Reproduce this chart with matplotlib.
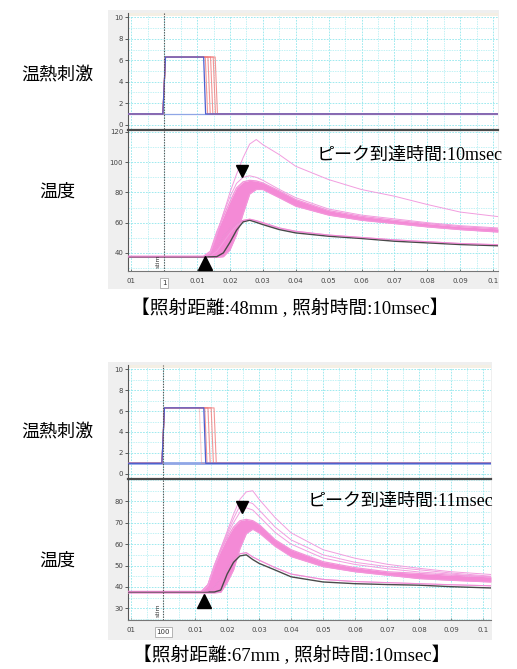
import matplotlib
matplotlib.use("Agg")
from matplotlib import pyplot as plt
from matplotlib.patches import Rectangle
from matplotlib.ticker import MultipleLocator
import matplotlib.transforms as mtransforms

# ---- data ----
# time points (s) for the temperature traces
t_temp_48 = [-0.011, 0.012, 0.014, 0.016, 0.018, 0.020, 0.022, 0.024, 0.026, 0.028,
             0.030, 0.035, 0.040, 0.050, 0.060, 0.070, 0.080, 0.090, 0.1015]
t_temp_67 = [-0.011, 0.012, 0.014, 0.016, 0.018, 0.020, 0.022, 0.024, 0.026, 0.028,
             0.030, 0.035, 0.040, 0.050, 0.060, 0.070, 0.080, 0.090, 0.1025]

# 48mm
black_48 = [37.4, 37.4, 37.4, 37.5, 40.0, 47.0, 55.0, 60.5, 61.6, 60.2, 58.7, 55.4, 53.2, 51.0, 49.5, 47.7, 46.6, 45.5, 44.7]
band_hi_48 = [37.8, 37.8, 41.0, 54.0, 64.0, 74.0, 83.0, 87.0, 88.0, 87.6, 86.3, 81.0, 75.3, 68.0, 64.2, 61.6, 59.4, 57.4, 55.9]
band_lo_48 = [37.0, 37.0, 37.0, 37.0, 37.5, 42.0, 52.0, 66.0, 79.0, 82.0, 81.9, 76.5, 70.9, 65.0, 61.6, 59.4, 57.2, 55.4, 53.8]
extra_48 = [
    [37.6, 37.6, 40.0, 52.0, 66.0, 80.0, 92.0, 103.0, 112.0, 115.0, 111.6, 105.0, 97.3, 88.5, 81.9, 77.5, 72.0, 67.0, 64.0],
    [37.6, 37.6, 40.0, 53.0, 66.0, 77.0, 86.0, 90.0, 91.0, 90.0, 88.0, 82.0, 76.5, 69.0, 65.0, 62.5, 60.0, 58.0, 56.5],
    [37.6, 37.6, 38.0, 41.0, 47.0, 53.0, 58.0, 61.0, 62.0, 61.0, 59.5, 56.0, 54.0, 51.6, 50.0, 48.4, 47.2, 46.0, 45.2],
    [37.6, 37.6, 38.5, 44.0, 51.0, 56.0, 59.5, 61.5, 62.3, 61.3, 60.0, 56.5, 54.3, 51.8, 50.2, 48.6, 47.4, 46.2, 45.4],
]

# 67mm
black_67 = [37.6, 37.6, 37.6, 37.6, 38.5, 46.0, 51.5, 54.5, 55.0, 52.8, 51.0, 47.9, 44.7, 42.3, 41.5, 41.1, 40.8, 40.1, 39.5]
band_hi_67 = [37.9, 37.9, 41.0, 50.0, 57.0, 63.0, 68.0, 71.0, 71.6, 71.0, 69.2, 62.1, 57.4, 51.8, 49.0, 47.1, 46.3, 45.5, 44.7]
band_lo_67 = [37.2, 37.2, 37.2, 37.2, 37.5, 42.0, 48.0, 58.0, 65.0, 67.0, 65.3, 59.0, 54.2, 49.5, 47.1, 45.5, 43.9, 43.1, 42.3]
extra_67 = [
    [37.8, 37.8, 41.0, 50.0, 58.0, 66.0, 74.0, 81.0, 84.5, 85.0, 81.0, 72.4, 65.3, 57.4, 53.4, 50.6, 48.7, 47.1, 45.8],
    [37.8, 37.8, 41.0, 50.0, 58.0, 65.0, 72.0, 78.0, 80.0, 79.0, 76.0, 68.0, 62.0, 55.0, 51.5, 49.5, 48.0, 46.5, 45.0],
    [37.8, 37.8, 41.0, 49.0, 57.0, 64.0, 70.0, 75.0, 77.0, 76.0, 73.0, 65.5, 60.0, 53.5, 50.5, 48.5, 47.0, 46.0, 44.5],
    [37.8, 37.8, 38.0, 40.0, 44.0, 49.0, 53.0, 55.5, 56.0, 54.0, 52.5, 49.0, 46.0, 43.5, 42.5, 42.0, 41.5, 41.0, 40.5],
]

# stimulus pulse: low / high level, onset, offsets
stim_low = 1.0
stim_high = 6.3
stim_on = 0.0
blue_off_48 = 0.0120
red_off_48 = [0.0125, 0.0133, 0.0141, 0.0149, 0.0155]
blue_off_67 = 0.0127
red_off_67 = [0.0113, 0.0130, 0.0140, 0.0150, 0.0159]

# markers (onset / peak)
onset_48 = (0.0125, 33.5)
peak_48 = (0.0238, 94.5)
onset_67 = (0.0129, 33.6)
peak_67 = (0.0247, 77.5)

xtick_vals = [-0.01, 0.01, 0.02, 0.03, 0.04, 0.05, 0.06, 0.07, 0.08, 0.09, 0.1]
xtick_text = ["01", "0.01", "0.02", "0.03", "0.04", "0.05", "0.06", "0.07", "0.08", "0.09", "0.1"]

JP = ["Noto Sans CJK JP", "DejaVu Sans"]
MIX = ["Liberation Serif", "Noto Sans CJK JP"]

W, H = 517, 669
fig = plt.figure(figsize=(W / 100, H / 100), dpi=100)
fig.patch.set_facecolor("white")


def px_axes(left, top, right, bottom):
    return fig.add_axes([left / W, 1 - bottom / H, (right - left) / W, (bottom - top) / H])


def gray_frame(left, top, right, bottom):
    fig.patches.append(Rectangle((left / W, 1 - bottom / H), (right - left) / W, (bottom - top) / H,
                                 transform=fig.transFigure, facecolor="#efefef", edgecolor="none", zorder=-5))


def style_grid(ax, ymaj, ymin):
    ax.set_facecolor("white")
    ax.xaxis.set_major_locator(MultipleLocator(0.01))
    ax.xaxis.set_minor_locator(MultipleLocator(0.005))
    ax.yaxis.set_major_locator(MultipleLocator(ymaj))
    ax.yaxis.set_minor_locator(MultipleLocator(ymin))
    ax.grid(which="major", color="#8fe6ec", lw=0.6, ls=(0, (2, 1.5)))
    ax.grid(which="minor", color="#a9edf1", lw=0.5, ls=(0, (2, 1.5)))
    ax.set_axisbelow(True)
    ax.spines["right"].set_visible(False)
    ax.spines["left"].set_color("#555555")
    ax.spines["left"].set_linewidth(0.8)
    ax.tick_params(axis="y", which="major", labelsize=5, colors="#444444", length=2, width=0.6, pad=1.5)
    ax.tick_params(axis="y", which="minor", length=0)
    ax.tick_params(axis="x", which="minor", length=0)
    ax.axvline(0, color="#555555", lw=0.8, ls=(0, (1.2, 1.2)), zorder=5)


def stim_panel(ax, xmax, blue_off, red_offs, light_first, base_lw):
    style_grid(ax, 2, 1)
    ax.set_xlim(-0.011, xmax)
    ax.set_ylim(-0.4, 10.4)
    ax.set_yticks([0, 2, 4, 6, 8, 10])
    ax.tick_params(axis="x", which="major", length=0, labelbottom=False)
    ax.spines["top"].set_visible(False)
    ax.spines["bottom"].set_visible(False)
    ax.add_patch(Rectangle((0, 0.975), 1, 0.025, transform=ax.transAxes, facecolor="#f4efe4",
                           edgecolor="none", zorder=1))
    ax.axhline(stim_low, color="#8fa6e6", lw=base_lw, zorder=2)
    for i, off in enumerate(red_offs):
        alpha = 0.35 if (light_first and i == 0) else 0.8
        ax.plot([-0.011, stim_on - 0.0004, stim_on + 0.0004, off, off + 0.0007, xmax],
                [stim_low, stim_low, stim_high, stim_high, stim_low, stim_low],
                color="#f07c7c", lw=0.8, alpha=alpha, zorder=3)
    ax.plot([-0.011, stim_on - 0.0004, stim_on + 0.0004, blue_off, blue_off + 0.0006, xmax],
            [stim_low, stim_low, stim_high, stim_high, stim_low, stim_low],
            color="#4d5fd0", lw=0.9, zorder=4)


def temp_panel(ax, xmax, ylim, ymaj, ymin, yticks, t, hi, lo, extras, black, onset, peak, box_text,
               note, note_xy):
    style_grid(ax, ymaj, ymin)
    ax.set_xlim(-0.011, xmax)
    ax.set_ylim(*ylim)
    ax.set_yticks(yticks)
    ax.spines["top"].set_color("#4a4a4a")
    ax.spines["top"].set_linewidth(1.6)
    ax.spines["bottom"].set_color("#777777")
    ax.spines["bottom"].set_linewidth(0.8)
    ax.set_xticks(xtick_vals)
    ax.set_xticklabels(xtick_text)
    ax.tick_params(axis="x", which="major", labelsize=5, colors="#444444", length=1.5, width=0.5,
                   pad=5, direction="in")
    ax.fill_between(t, lo, hi, color="#f48ad6", lw=0, zorder=3)
    ax.plot(t, hi, color="#f395da", lw=0.9, zorder=3)
    ax.plot(t, lo, color="#f395da", lw=0.9, zorder=3)
    for ys in extras:
        ax.plot(t, ys, color="#f29ddf", lw=0.7, zorder=3)
    ax.plot(t, black, color="#4a4a4a", lw=1.0, zorder=4)
    ax.plot(t, extras[-1], color="#ef86d2", lw=0.8, alpha=0.8, zorder=5)
    ax.plot(*onset, marker="^", color="black", markersize=10, zorder=6, clip_on=False)
    ax.plot(*peak, marker="v", color="black", markersize=9, zorder=6)
    trans = mtransforms.blended_transform_factory(ax.transData, ax.transAxes)
    ax.text(-0.0017, 0.02, "stim", rotation=90, fontsize=4.5, color="#333333", ha="center",
            va="bottom", transform=trans, zorder=6)
    ax.text(0, -0.085, box_text, fontsize=5, color="#333333", ha="center", va="center", transform=trans,
            bbox=dict(boxstyle="square,pad=0.25", fc="white", ec="#999999", lw=0.5))
    ax.text(note_xy[0], note_xy[1], note, fontsize=13, family=MIX, ha="left", va="center", zorder=7)


# ---- upper block: 48mm ----
gray_frame(108, 10, 499, 289)
ax1 = px_axes(128, 13, 498, 129)
stim_panel(ax1, 0.1015, blue_off_48, red_off_48, False, 0.9)
ax2 = px_axes(128, 130, 498, 271)
temp_panel(ax2, 0.1015, (28, 121.3), 20, 10, [40, 60, 80, 100, 120], t_temp_48,
           band_hi_48, band_lo_48, extra_48, black_48, onset_48, peak_48, "1",
           "ピーク到達時間:10msec", (0.0462, 104.5))

# ---- lower block: 67mm ----
gray_frame(108, 362, 492, 640)
ax3 = px_axes(128, 365, 491, 478)
stim_panel(ax3, 0.1025, blue_off_67, red_off_67, True, 2.0)
ax4 = px_axes(128, 479, 491, 620)
temp_panel(ax4, 0.1025, (24.5, 90.5), 10, 5, [30, 40, 50, 60, 70, 80], t_temp_67,
           band_hi_67, band_lo_67, extra_67, black_67, onset_67, peak_67, "100",
           "ピーク到達時間:11msec", (0.0452, 80.0))

# ---- side labels and captions ----
for label, y in [("温熱刺激", 75), ("温度", 192), ("温熱刺激", 432), ("温度", 561)]:
    fig.text(57 / W, 1 - y / H, label, fontsize=13, family=JP, ha="center", va="center")

fig.text(290 / W, 1 - 308 / H, "【照射距離:48mm , 照射時間:10msec】", fontsize=13.5, family=MIX,
         ha="center", va="center")
fig.text(292 / W, 1 - 655 / H, "【照射距離:67mm , 照射時間:10msec】", fontsize=13.5, family=MIX,
         ha="center", va="center")

plt.savefig("out.png", dpi=100)
